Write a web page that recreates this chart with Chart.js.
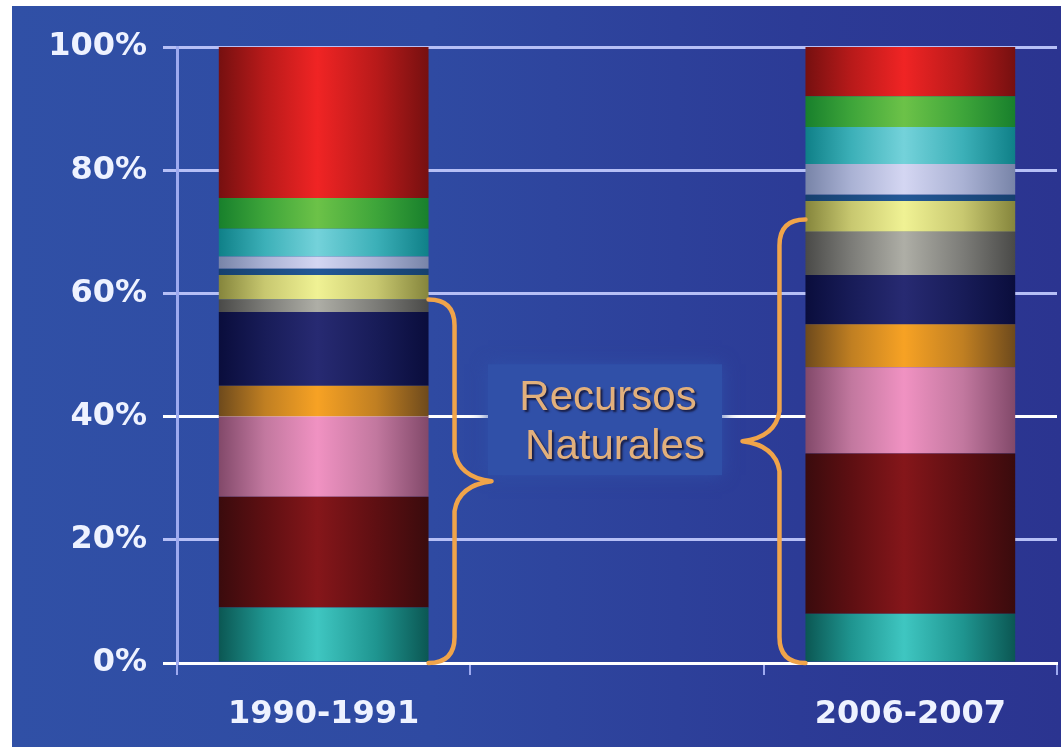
<!DOCTYPE html>
<html>
<head>
<meta charset="utf-8">
<script src="https://cdn.jsdelivr.net/npm/chart.js@4.4.1/dist/chart.umd.min.js"></script>
<style>
    html, body { margin: 0; padding: 0; background: #ffffff; }
    #chart {
        position: absolute;
        left: 12px;
        top: 6px;
        background: linear-gradient(90deg, #3050a6 0%, #2f4aa2 40%, #2c3b96 75%, #2b3490 100%);
    }
</style>
</head>
<body>
<canvas id="chart" width="1049" height="741"></canvas>
<script>
// periods (middle slot is empty, the annotation sits there)
const periods = ['1990-1991', '', '2006-2007'];
const segmentNames = ['Seg. 1', 'Seg. 2', 'Seg. 3', 'Seg. 4', 'Seg. 5', 'Seg. 6',
                      'Seg. 7', 'Seg. 8', 'Seg. 9', 'Seg. 10', 'Seg. 11', 'Seg. 12'];
// share of each segment, bottom to top (%)
const share1990 = [9, 18, 13, 5, 12, 2, 4, 1, 2, 4.5, 5, 24.5];
const share2006 = [8, 26, 14, 7, 8, 7, 5, 1, 5, 6, 5, 8];
const yTicks = [0, 20, 40, 60, 80, 100];
// "Recursos Naturales" brace ranges (%), one per period
const braceFrom = [0, 0];
const braceTo = [59, 72];
const noteLines = ['Recursos', 'Naturales'];

// edge / mid / highlight colours for each segment
const shades = [
    ['#0b5753', '#1f9590', '#3fc6c1'],
    ['#3a0b0d', '#5e0f12', '#85161a'],
    ['#82496a', '#c2789f', '#f092c2'],
    ['#6e4a1c', '#c07f22', '#f7a224'],
    ['#0a0d3c', '#181c58', '#272a72'],
    ['#4a4a48', '#7c7c78', '#aeaea6'],
    ['#85853c', '#c8c870', '#f0f294'],
    ['#16406e', '#1c4c82', '#235896'],
    ['#7884a8', '#aab2d4', '#d4d6f2'],
    ['#0f8088', '#3cb0b8', '#74d2da'],
    ['#18802c', '#3ea53a', '#6cc248'],
    ['#761010', '#b81a1a', '#f02424']
];

const barPct = 0.715;

function barFill(ctx, i) {
    const chart = ctx.chart;
    const s = shades[i];
    if (!chart.chartArea || !chart.scales.x) return s[1];
    const xs = chart.scales.x;
    const cx = xs.getPixelForValue(ctx.dataIndex);
    const half = xs.width / periods.length * barPct / 2;
    const g = chart.ctx.createLinearGradient(cx - half, 0, cx + half, 0);
    g.addColorStop(0, s[0]);
    g.addColorStop(0.22, s[1]);
    g.addColorStop(0.47, s[2]);
    g.addColorStop(0.75, s[1]);
    g.addColorStop(1, s[0]);
    return g;
}

const datasets = segmentNames.map((name, i) => ({
    label: name,
    data: [share1990[i], null, share2006[i]],
    backgroundColor: c => barFill(c, i),
    borderWidth: 0,
    barPercentage: barPct,
    categoryPercentage: 1
}));

// braces + note box drawn on top of the grid
const notePlugin = {
    id: 'note',
    beforeDatasetsDraw(chart) {
        const ctx = chart.ctx;
        const xs = chart.scales.x, ys = chart.scales.y;
        const cx = xs.getPixelForValue(1);
        const top = ys.getPixelForValue(48.5), bottom = ys.getPixelForValue(30.5);
        ctx.save();
        ctx.fillStyle = '#3050a8';
        ctx.shadowColor = 'rgba(48,80,168,0.9)';
        ctx.shadowBlur = 16;
        ctx.fillRect(cx - 129, top, 234, bottom - top);
        ctx.restore();
    },
    afterDatasetsDraw(chart) {
        const ctx = chart.ctx;
        const xs = chart.scales.x, ys = chart.scales.y;
        const half = xs.width / periods.length * barPct / 2;
        const r = 26, rt = 30, gap = 26, tip = 37;

        function brace(x0, dir, yT, yB) {
            const vx = x0 + dir * gap;
            const tx = vx + dir * tip;
            const yM = (yT + yB) / 2;
            ctx.beginPath();
            ctx.moveTo(x0, yT);
            ctx.quadraticCurveTo(vx, yT, vx, yT + r);
            ctx.lineTo(vx, yM - rt);
            ctx.quadraticCurveTo(vx + dir * 4, yM - 4, tx, yM);
            ctx.quadraticCurveTo(vx + dir * 4, yM + 4, vx, yM + rt);
            ctx.lineTo(vx, yB - r);
            ctx.quadraticCurveTo(vx, yB, x0, yB);
            ctx.stroke();
        }

        ctx.save();
        ctx.strokeStyle = '#f0a44a';
        ctx.lineWidth = 4.5;
        ctx.lineJoin = 'round';
        ctx.lineCap = 'round';
        brace(xs.getPixelForValue(0) + half, 1,
              ys.getPixelForValue(braceTo[0]), ys.getPixelForValue(braceFrom[0]));
        brace(xs.getPixelForValue(2) - half, -1,
              ys.getPixelForValue(braceTo[1]), ys.getPixelForValue(braceFrom[1]));

        const cx = xs.getPixelForValue(1) - 5;
        ctx.font = '42px "Liberation Sans", Arial, sans-serif';
        ctx.textAlign = 'center';
        ctx.textBaseline = 'middle';
        ctx.shadowColor = 'rgba(20,20,50,0.85)';
        ctx.shadowOffsetX = 2;
        ctx.shadowOffsetY = 2;
        ctx.shadowBlur = 2;
        ctx.fillStyle = '#e2b07c';
        ctx.fillText(noteLines[0], cx - 4, ys.getPixelForValue(43));
        ctx.fillText(noteLines[1], cx + 3, ys.getPixelForValue(35));
        ctx.restore();
    }
};

new Chart(document.getElementById('chart'), {
    type: 'bar',
    data: { labels: periods, datasets: datasets },
    options: {
        responsive: false,
        animation: false,
        layout: { padding: { top: 41, right: 4, left: 0, bottom: 0 } },
        plugins: {
            legend: { display: false },
            tooltip: { enabled: false }
        },
        scales: {
            x: {
                stacked: true,
                afterFit(scale) { scale.height = 84; },
                grid: {
                    offset: true,
                    drawOnChartArea: false,
                    drawTicks: true,
                    tickLength: 12,
                    color: '#9eaaf0',
                    lineWidth: 2
                },
                border: { color: '#ffffff', width: 3 },
                ticks: {
                    color: '#eef2ff',
                    padding: 20,
                    font: { family: '"DejaVu Sans", sans-serif', size: 32, weight: 'bold' }
                }
            },
            y: {
                stacked: true,
                min: 0,
                max: 100,
                afterFit(scale) { scale.width = 165; },
                afterBuildTicks(scale) { scale.ticks = yTicks.map(v => ({ value: v })); },
                grid: {
                    color: c => (c.tick && (c.tick.value === 0 || c.tick.value === 40)) ? '#ffffff' : '#b6bff6',
                    lineWidth: 3,
                    tickLength: 14
                },
                border: { color: '#9eaaf0', width: 3 },
                ticks: {
                    color: '#eef2ff',
                    padding: 16,
                    callback: v => v + '%',
                    font: { family: '"DejaVu Sans", sans-serif', size: 32, weight: 'bold' }
                }
            }
        }
    },
    plugins: [notePlugin]
});
</script>
</body>
</html>
